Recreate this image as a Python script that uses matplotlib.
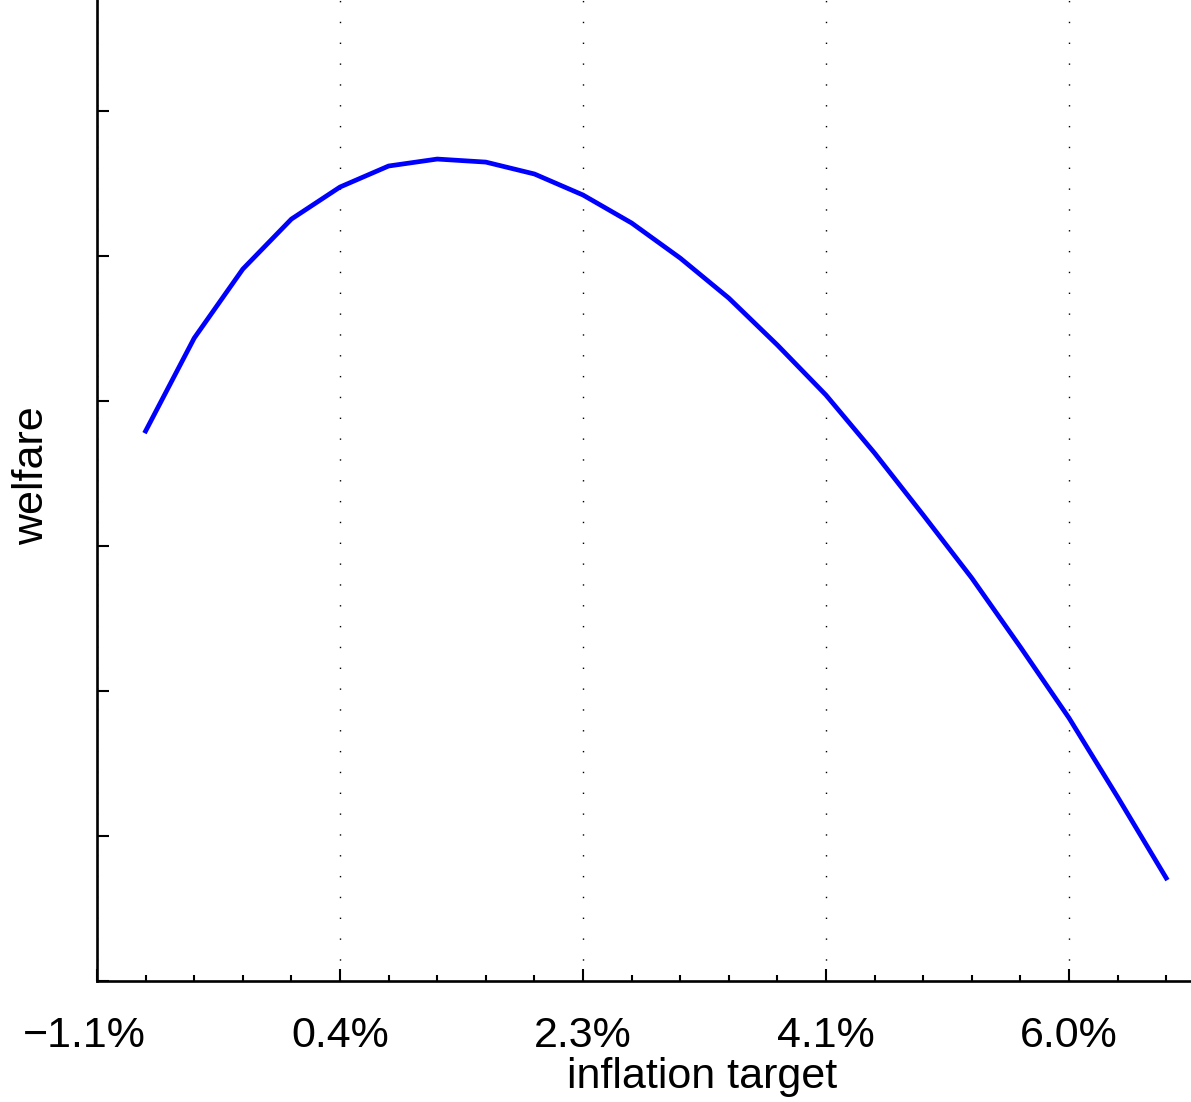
import matplotlib
matplotlib.use("Agg")
import matplotlib.pyplot as plt
import matplotlib.transforms as mtransforms
from matplotlib.ticker import MultipleLocator, FixedLocator

# data (welfare in arbitrary units, x = grid index of inflation target)
target_index = list(range(1, 23))
welfare = [3.793, 4.434, 4.910, 5.255, 5.476, 5.621, 5.669, 5.648, 5.566, 5.421,
           5.228, 4.986, 4.710, 4.386, 4.041, 3.641, 3.214, 2.779, 2.303, 1.814,
           1.269, 0.710]
xtick_pos = [0, 5, 10, 15, 20]
xtick_labels = ["\u22121.1%", "0.4%", "2.3%", "4.1%", "6.0%"]

plt.rcParams['font.family'] = ['Liberation Sans', 'DejaVu Sans']

W, H = 1191, 1102
fig = plt.figure(figsize=(W / 100, H / 100), dpi=100)
ax = fig.add_axes([97 / W, 121 / H, 1094 / W, 981 / H])

ax.plot(target_index, welfare, color='#0000ff', lw=3.4, solid_joinstyle='miter')

ax.set_xlim(0, 22.51)
ax.set_ylim(0, 6.766)

for s in ['top', 'right']:
    ax.spines[s].set_visible(False)
for s in ['left', 'bottom']:
    ax.spines[s].set_linewidth(1.9)

ax.xaxis.set_major_locator(FixedLocator(xtick_pos))
ax.set_xticklabels(xtick_labels)
ax.xaxis.set_minor_locator(MultipleLocator(1))
ax.yaxis.set_major_locator(MultipleLocator(1))
ax.set_yticklabels([])
ax.tick_params(axis='both', which='major', direction='in', length=8.6, width=1.5,
               labelsize=31, pad=25)
ax.tick_params(axis='x', which='minor', direction='in', length=4.3, width=1.5)

ax.grid(axis='x', which='major', color='k', lw=1.0, linestyle=(0, (1, 14)))

# shift first label slightly left like reference
lbl0 = ax.get_xticklabels()[0]
lbl0.set_transform(lbl0.get_transform() + mtransforms.ScaledTranslation(-13 / 100, 0, fig.dpi_scale_trans))

fig.text(702 / W, 1 - 1088 / H, "inflation target", ha='center', va='baseline', fontsize=31)
fig.text(43 / W, 1 - 476 / H, "welfare", rotation=90, rotation_mode='anchor',
         ha='center', va='baseline', fontsize=31)

fig.savefig("out.png", dpi=100)
